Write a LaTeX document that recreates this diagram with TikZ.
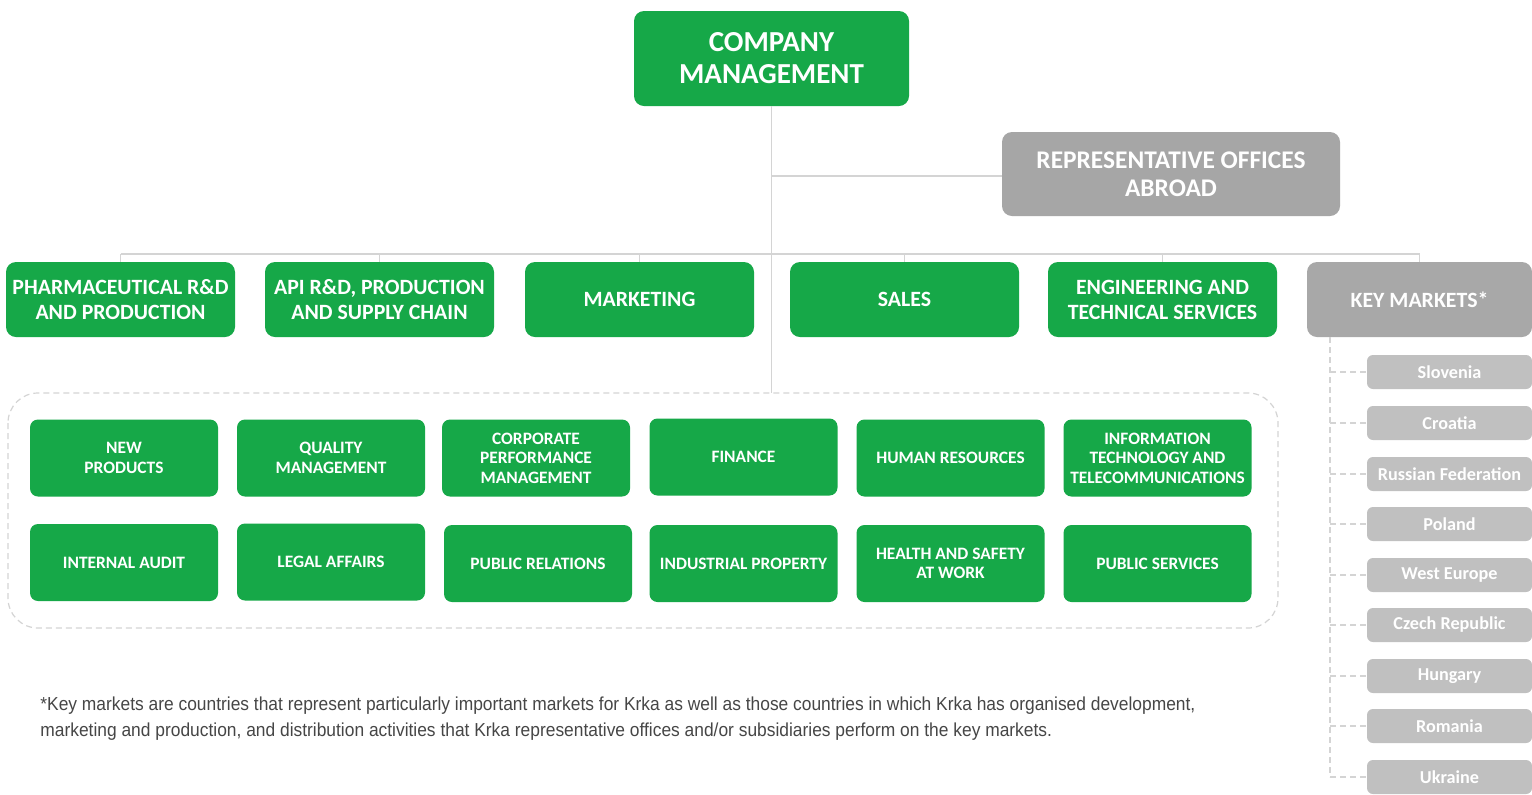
\documentclass[tikz,border=0pt]{standalone}
\usepackage{fontspec}
\setmainfont{Carlito}
\newfontfamily\notefont[FakeStretch=0.925]{Liberation Sans}
\usetikzlibrary{positioning}
\definecolor{krgreen}{RGB}{22,168,72}
\definecolor{repgray}{RGB}{166,166,166}
\definecolor{keygray}{RGB}{168,168,168}
\definecolor{ctrgray}{RGB}{192,192,192}
\definecolor{linegray}{RGB}{212,212,212}
\definecolor{notegray}{RGB}{70,70,70}
\tikzset{
  box/.style={rounded corners=5pt, text=white, align=center, inner sep=0pt, font=\bfseries},
  gbox/.style={box, fill=krgreen},
  topbox/.style={gbox, minimum width=137.5pt, minimum height=47.5pt, font=\bfseries\fontsize{14.5}{16}\selectfont},
  repbox/.style={box, fill=repgray, minimum width=169pt, minimum height=42pt, font=\bfseries\fontsize{12.7}{14}\selectfont},
  divbox/.style={gbox, minimum width=114.5pt, minimum height=37.5pt, font=\bfseries\fontsize{10.9}{12.5}\selectfont},
  keybox/.style={box, fill=keygray, minimum width=112.5pt, minimum height=37.5pt, font=\bfseries\fontsize{10.9}{12.5}\selectfont},
  unitbox/.style={gbox, minimum width=94pt, minimum height=38.5pt, rounded corners=4pt, font=\bfseries\fontsize{8.7}{9.8}\selectfont},
  ctrbox/.style={box, fill=ctrgray, minimum width=82.5pt, minimum height=17pt, rounded corners=3pt, font=\bfseries\fontsize{9.1}{10}\selectfont},
  conn/.style={draw=linegray, line width=0.6pt},
  dconn/.style={draw=linegray, line width=0.6pt, dashed, dash pattern=on 3pt off 2pt},
}
\begin{document}
\begin{tikzpicture}[x=0.5pt, y=-0.5pt]
\useasboundingbox (0,0) rectangle (1532,794);
\fill[white] (0,0) rectangle (1532,794);

% dashed group frame
\draw[dconn, rounded corners=15pt] (8,393) rectangle (1278,628);

% top
\node[topbox] (cm) at (771.5,58.5) {COMPANY\\MANAGEMENT};
\node[repbox] (rep) at (1171,174) {REPRESENTATIVE OFFICES\\ABROAD};

% divisions
\node[divbox] (pharma) at (120.5,299.5) {PHARMACEUTICAL R\&D\\AND PRODUCTION};
\node[divbox] (api) at (379.5,299.5) {API R\&D, PRODUCTION\\AND SUPPLY CHAIN};
\node[divbox] (mkt) at (639.5,299.5) {MARKETING};
\node[divbox] (sales) at (904.5,299.5) {SALES};
\node[divbox] (eng) at (1162.5,299.5) {ENGINEERING AND\\TECHNICAL SERVICES};
\node[keybox] (key) at (1419.5,299.5) {KEY MARKETS*};

% units
\node[unitbox] (u1) at (124,458) {NEW\\PRODUCTS};
\node[unitbox] (u2) at (331,458) {QUALITY\\MANAGEMENT};
\node[unitbox] (u3) at (536,458) {CORPORATE\\PERFORMANCE\\MANAGEMENT};
\node[unitbox] (u4) at (743.5,457) {FINANCE};
\node[unitbox] (u5) at (950.5,458) {HUMAN RESOURCES};
\node[unitbox] (u6) at (1157.5,458) {INFORMATION\\TECHNOLOGY AND\\TELECOMMUNICATIONS};
\node[unitbox] (u7) at (124,562.5) {INTERNAL AUDIT};
\node[unitbox] (u8) at (331,562) {LEGAL AFFAIRS};
\node[unitbox] (u9) at (538,563.5) {PUBLIC RELATIONS};
\node[unitbox] (u10) at (743.5,563.5) {INDUSTRIAL PROPERTY};
\node[unitbox] (u11) at (950.5,563.5) {HEALTH AND SAFETY\\AT WORK};
\node[unitbox] (u12) at (1157.5,563.5) {PUBLIC SERVICES};

% countries
\node[ctrbox] (c1) at (1449.5,372) {Slovenia};
\node[ctrbox] (c2) at (1449.5,423) {Croatia};
\node[ctrbox] (c3) at (1449.5,474) {Russian Federation};
\node[ctrbox] (c4) at (1449.5,524) {Poland};
\node[ctrbox] (c5) at (1449.5,575) {West Europe};
\node[ctrbox] (c6) at (1449.5,625) {Czech Republic};
\node[ctrbox] (c7) at (1449.5,676) {Hungary};
\node[ctrbox] (c8) at (1449.5,726) {Romania};
\node[ctrbox] (c9) at (1449.5,777) {Ukraine};

% connectors
\coordinate (trunk) at (771.5,393);
\coordinate (repj) at (771.5,176);
\coordinate (hl) at (120.5,254);
\coordinate (hr) at (1419.5,254);
\draw[conn] (cm.south) -- (trunk);
\draw[conn] (repj) -- (rep.west |- repj);
\draw[conn] (hl) -- (hr);
\foreach \n in {pharma,api,mkt,sales,eng,key}
  \draw[conn] (\n.north |- hl) -- (\n.north);

\coordinate (kt) at (1330,337);
\coordinate (kb) at (1330,777);
\draw[dconn] (kt) -- (kb);
\foreach \n in {c1,c2,c3,c4,c5,c6,c7,c8,c9}
  \draw[dconn] (kt |- \n.west) -- (\n.west);

% footnote
\node[anchor=north west, align=left, inner sep=0pt, text=notegray,
      font=\notefont\fontsize{9.4}{13}\selectfont] (note) at (40,696)
  {*Key markets are countries that represent particularly important markets for Krka as well as those countries in which Krka has organised development,\\
   marketing and production, and distribution activities that Krka representative offices and/or subsidiaries perform on the key markets.};
\end{tikzpicture}
\end{document}
